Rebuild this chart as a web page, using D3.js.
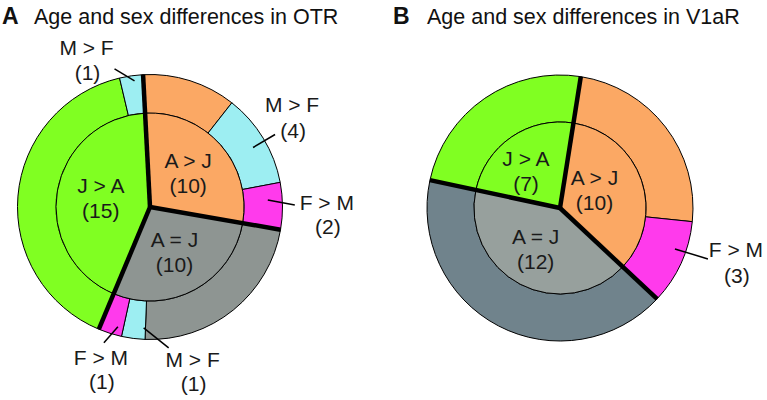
<!DOCTYPE html>
<html>
<head>
<meta charset="utf-8">
<script src="https://cdn.jsdelivr.net/npm/d3@7"></script>
<style>
  html, body { margin: 0; padding: 0; background: #fff; }
  svg { display: block; font-family: "Liberation Sans", Arial, sans-serif; }
</style>
</head>
<body>
<svg id="chart" width="767" height="400"></svg>
<script>
// ---------- DATA ----------
const titleA = "Age and sex differences in OTR";
const titleB = "Age and sex differences in V1aR";

const innerCatsA = ["A > J", "A = J", "J > A"];
const innerValsA = [10, 10, 15];
const outerCatA  = ["A > J", "A > J", "A > J", "A = J", "A = J", "A = J", "J > A", "J > A"];
const outerSexA  = ["none",  "M > F", "F > M", "none",  "M > F", "F > M", "none",  "M > F"];
const outerValsA = [4, 4, 2, 8, 1, 1, 14, 1];

const innerCatsB = ["A > J", "A = J", "J > A"];
const innerValsB = [10, 12, 7];
const outerCatB  = ["A > J", "A > J", "A = J", "J > A"];
const outerSexB  = ["none",  "F > M", "none",  "none"];
const outerValsB = [7, 3, 12, 7];

// ---------- STYLE / LAYOUT ----------
const catColor = { "A > J": "#FBA864", "J > A": "#80FF22" };
const sexColor = { "M > F": "#9DEEF2", "F > M": "#FF3AEC" };

const panels = [
  {
    letter: "A", title: titleA, letterX: 2, titleX: 34,
    cx: 150, cy: 207, rOuter: 132.5, rInner: 94, start: -3,
    grayInner: "#8E9592", grayOuter: "#8E9592",
    innerCats: innerCatsA, innerVals: innerValsA,
    outerCat: outerCatA, outerSex: outerSexA, outerVals: outerValsA,
    labelR: 51,
    nudge: { "A > J": [0, 0], "A = J": [0, 0], "J > A": [1, 0] },
    leaders: [
      { i: 7, ang: 353, r0: 127, dx: -20, dy: -12, tx: -28, ty: -21, gap: 25 },
      { i: 1, ang: 60,  r0: 119, dx: 22,  dy: -13, tx: 17,  ty: -30, gap: 26 },
      { i: 2, ang: 86.6,r0: 118, dx: 27,  dy: 5,   tx: 32,  ty: -2,  gap: 24 },
      { i: 5, ang: 195, r0: 124, dx: -14, dy: 16,  tx: -3,  ty: 15,  gap: 24 },
      { i: 4, ang: 183, r0: 121, dx: 25,  dy: 20,  tx: 24,  ty: 12,  gap: 24 }
    ]
  },
  {
    letter: "B", title: titleB, letterX: 393, titleX: 427,
    cx: 560, cy: 208, rOuter: 133, rInner: 86, start: 9,
    grayInner: "#97A09D", grayOuter: "#70838C",
    innerCats: innerCatsB, innerVals: innerValsB,
    outerCat: outerCatB, outerSex: outerSexB, outerVals: outerValsB,
    labelR: 46,
    nudge: { "A > J": [-9, -3], "A = J": [-3, 0], "J > A": [-8, 1] },
    leaders: [
      { i: 1, ang: 109.6, r0: 122, dx: 33, dy: 10, tx: 28, ty: -9, gap: 26 }
    ]
  }
];

const svg = d3.select("#chart");
const rad = d => d * Math.PI / 180;
const FS = 21;

panels.forEach(p => {
  // titles
  svg.append("text").attr("x", p.letterX).attr("y", 24)
    .attr("font-size", 23).attr("font-weight", "bold").attr("fill", "#111").text(p.letter);
  svg.append("text").attr("x", p.titleX).attr("y", 24)
    .attr("font-size", 21.5).attr("fill", "#111").text(p.title);

  const g = svg.append("g").attr("transform", `translate(${p.cx},${p.cy})`);
  const a0 = rad(p.start);

  const pieGen = d3.pie().sort(null).value(d => d.v).startAngle(a0).endAngle(a0 + 2 * Math.PI);
  const innerData = pieGen(p.innerCats.map((c, k) => ({ c, v: p.innerVals[k] })));
  const outerData = pieGen(p.outerCat.map((c, k) => ({ c, s: p.outerSex[k], v: p.outerVals[k], k })));

  const arcInner = d3.arc().innerRadius(0).outerRadius(p.rInner);
  const arcOuter = d3.arc().innerRadius(p.rInner).outerRadius(p.rOuter);

  const fillOuter = d => d.data.s !== "none" ? sexColor[d.data.s]
    : (d.data.c === "A = J" ? p.grayOuter : catColor[d.data.c]);
  const fillInner = d => d.data.c === "A = J" ? p.grayInner : catColor[d.data.c];

  g.selectAll("path.outer").data(outerData).enter().append("path")
    .attr("class", "outer").attr("d", arcOuter)
    .attr("fill", fillOuter).attr("stroke", "#000").attr("stroke-width", 1);

  g.selectAll("path.inner").data(innerData).enter().append("path")
    .attr("class", "inner").attr("d", arcInner)
    .attr("fill", fillInner).attr("stroke", "#000").attr("stroke-width", 1);

  // thick radial separators at category boundaries
  innerData.forEach(d => {
    const a = d.startAngle;
    g.append("line")
      .attr("x1", 0).attr("y1", 0)
      .attr("x2", p.rOuter * Math.sin(a)).attr("y2", -p.rOuter * Math.cos(a))
      .attr("stroke", "#000").attr("stroke-width", 4.5).attr("stroke-linecap", "butt");
  });

  // inner labels
  innerData.forEach(d => {
    const m = (d.startAngle + d.endAngle) / 2;
    const n = p.nudge[d.data.c];
    const x = p.labelR * Math.sin(m) + n[0], y = -p.labelR * Math.cos(m) + n[1];
    const t = g.append("text").attr("text-anchor", "middle").attr("font-size", FS).attr("fill", "#1a1a1a");
    t.append("tspan").attr("x", x).attr("y", y - 5).text(d.data.c);
    t.append("tspan").attr("x", x).attr("y", y + 20).text(`(${d.data.v})`);
  });

  // outer labels with leader lines
  p.leaders.forEach(L => {
    const d = outerData[L.i];
    const a = rad(L.ang);
    const x1 = L.r0 * Math.sin(a), y1 = -L.r0 * Math.cos(a);
    const x2 = x1 + L.dx, y2 = y1 + L.dy;
    g.append("line").attr("x1", x1).attr("y1", y1).attr("x2", x2).attr("y2", y2)
      .attr("stroke", "#000").attr("stroke-width", 1.5);
    const tx = x2 + L.tx, ty = y2 + L.ty;
    const t = g.append("text").attr("text-anchor", "middle").attr("font-size", FS).attr("fill", "#1a1a1a");
    t.append("tspan").attr("x", tx).attr("y", ty + 7).text(d.data.s);
    t.append("tspan").attr("x", tx + 1).attr("y", ty + 7 + L.gap).text(`(${d.data.v})`);
  });
});
</script>
</body>
</html>
